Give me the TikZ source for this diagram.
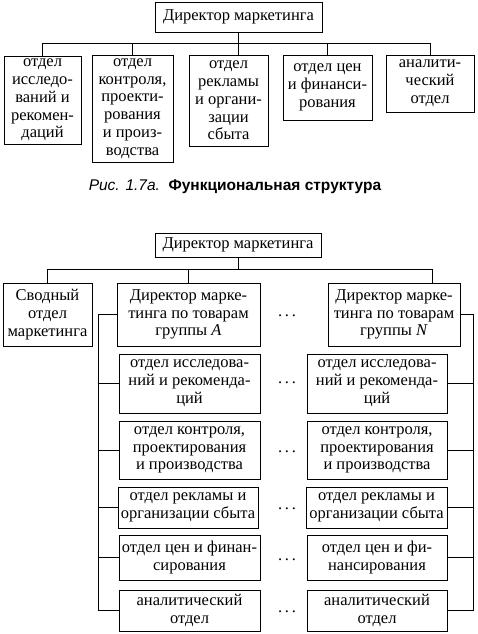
\documentclass[tikz,border=0pt]{standalone}
\usepackage{fontspec}
\setmainfont{Liberation Serif}
\newfontfamily\capfont{Liberation Sans}
\begin{document}
\begin{tikzpicture}[x=1pt,y=-1pt,
  mybox/.style={draw, line width=0.9pt, align=center, inner sep=1pt, font=\fontsize{16.5}{17.8}\selectfont},
  mydots/.style={inner sep=0pt, font=\fontsize{16.5}{17.8}\selectfont}]
  \useasboundingbox (0,0) rectangle (477,634);

  % functional structure
  \node[mybox, minimum width=167, minimum height=30] (dir1) at (238.5,17) {Директор маркетинга};

  \node[mybox, minimum width=77, minimum height=88] (f1) at (42.5,100) {отдел\\исследо-\\ваний и\\рекомен-\\даций};
  \node[mybox, minimum width=81, minimum height=107] (f2) at (132.5,108.5) {отдел\\контроля,\\проекти-\\рования\\и произ-\\водства};
  \node[mybox, minimum width=79, minimum height=91] (f3) at (228.5,100.5) {отдел\\рекламы\\и органи-\\зации\\сбыта};
  \node[mybox, minimum width=89, minimum height=65] (f4) at (327.5,87.5) {отдел цен\\и финанси-\\рования};
  \node[mybox, minimum width=88, minimum height=57] (f5) at (430,83.5) {аналити-\\ческий\\отдел};

  \coordinate (bus1) at (238.5,43);
  \draw [line width=0.9pt](dir1.south) -- (dir1.south |- f3.north);
  \draw [line width=0.9pt](f1.north) -- (f1.north |- bus1) -- (f5.north |- bus1) -- (f5.north);
  \draw [line width=0.9pt](f2.north) -- (f2.north |- bus1);
  \draw [line width=0.9pt](f4.north) -- (f4.north |- bus1);

  \node (cap) at (235,187) {\capfont\fontsize{15.5}{17}\selectfont\textit{Рис. 1.7а.}\ \ \textbf{Функциональная структура}};

  % product structure
  \node[mybox, minimum width=166, minimum height=24] (dir2) at (238,245) {Директор маркетинга};

  \node[mybox, minimum width=89, minimum height=63] (s) at (47.5,314.5) {Сводный\\отдел\\маркетинга};
  \node[mybox, minimum width=143, minimum height=63] (dA) at (188.5,314.5) {Директор марке-\\тинга по товарам\\группы \textit{A}};
  \node[mybox, minimum width=132, minimum height=63] (dN) at (394,314.5) {Директор марке-\\тинга по товарам\\группы \textit{N}};

  \node[mybox, minimum width=141, minimum height=59] (a1) at (189.5,383.5) {отдел исследова-\\ний и рекоменда-\\ций};
  \node[mybox, minimum width=141, minimum height=58] (a2) at (189.5,450) {отдел контроля,\\проектирования\\и производства};
  \node[mybox, minimum width=140, minimum height=41] (a3) at (188,507.5) {отдел рекламы и\\организации сбыта};
  \node[mybox, minimum width=141, minimum height=45] (a4) at (189.5,557.5) {отдел цен и финан-\\сирования};
  \node[mybox, minimum width=141, minimum height=41] (a5) at (189.5,610.5) {аналитический\\отдел};

  \node[mybox, minimum width=140, minimum height=59] (n1) at (377,383.5) {отдел исследова-\\ний и рекоменда-\\ций};
  \node[mybox, minimum width=140, minimum height=58] (n2) at (377,450) {отдел контроля,\\проектирования\\и производства};
  \node[mybox, minimum width=141, minimum height=41] (n3) at (376.5,507.5) {отдел рекламы и\\организации сбыта};
  \node[mybox, minimum width=140, minimum height=45] (n4) at (377,557.5) {отдел цен и фи-\\нансирования};
  \node[mybox, minimum width=140, minimum height=41] (n5) at (377,610.5) {аналитический\\отдел};

  \foreach \i/\y in {0/316,1/383,2/452,3/509,4/560,5/612}
    \node[mydots] (dt\i) at (287,\y) {.\,.\,.};

  \coordinate (bus2) at (238,269);
  \coordinate (nTop) at (432,283);
  \draw [line width=0.9pt](dir2.south) -- (dir2.south |- bus2);
  \draw [line width=0.9pt](s.north) -- (s.north |- bus2) -- (nTop |- bus2) -- (nTop);
  \draw [line width=0.9pt](dA.north) -- (dA.north |- bus2);

  \draw [line width=0.9pt](dA.west) -- ++(-18,0) coordinate (lsp) |- (a5.west);
  \foreach \n in {a1,a2,a3,a4}
    \draw [line width=0.9pt](\n.west) -- (\n.west -| lsp);
  \draw [line width=0.9pt](dN.east) -- ++(13,0) coordinate (rsp) |- (n5.east);
  \foreach \n in {n1,n2,n3,n4}
    \draw [line width=0.9pt](\n.east) -- (\n.east -| rsp);
\end{tikzpicture}
\end{document}
